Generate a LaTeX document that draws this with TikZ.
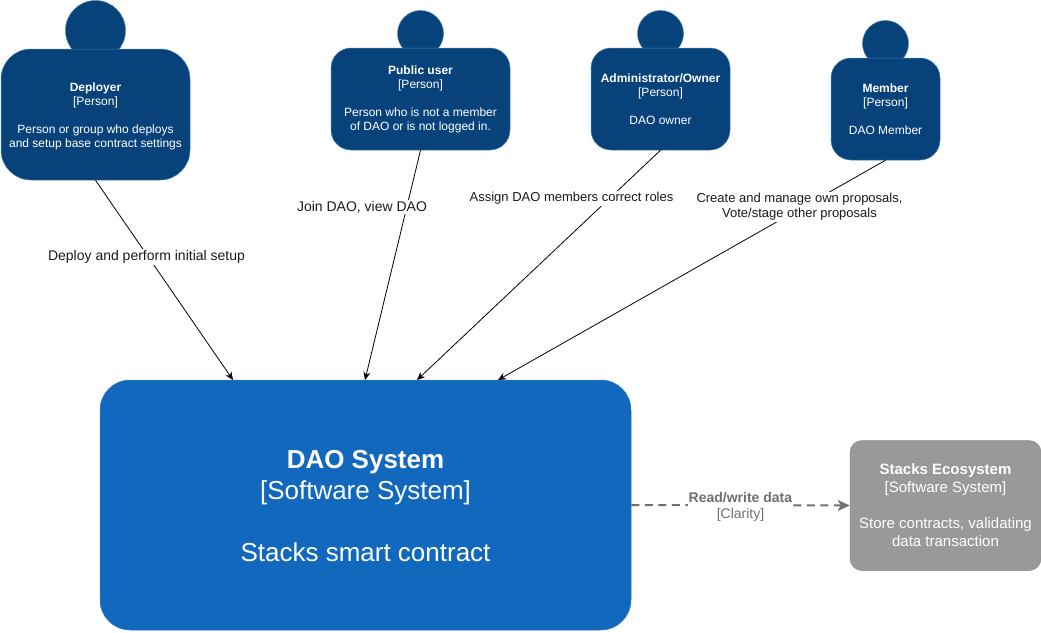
\documentclass[tikz,border=0pt]{standalone}
\usepackage{fontspec}
\setmainfont{Liberation Sans}
\usetikzlibrary{arrows.meta}
\definecolor{persfill}{HTML}{08427B}
\definecolor{persline}{HTML}{4A7FB0}
\definecolor{sysfill}{HTML}{1168BD}
\definecolor{sysline}{HTML}{3C7FC0}
\definecolor{extfill}{HTML}{999999}
\definecolor{extline}{HTML}{8A8A8A}
\definecolor{relgrey}{HTML}{707070}
\definecolor{labtext}{HTML}{1A1A1A}
\tikzset{
  personbody/.style={draw=persline,fill=persfill,text=white,line width=0.5pt,align=center,inner sep=0pt,
    font=\fontsize{12}{14}\selectfont},
  personhead/.style={circle,draw=persline,fill=persfill,line width=0.5pt,inner sep=0pt},
  sysbox/.style={draw=sysline,fill=sysfill,text=white,line width=0.5pt,align=center,inner sep=0pt,
    rounded corners=30pt,minimum width=531pt,minimum height=250pt,font=\fontsize{26}{31}\selectfont},
  extbox/.style={draw=extline,fill=extfill,text=white,line width=0.5pt,align=center,inner sep=0pt,
    rounded corners=12pt,minimum width=191pt,minimum height=130pt,font=\fontsize{15}{18}\selectfont},
  rel/.style={draw=black,line width=0.8pt,-{Stealth[length=8pt,width=7pt,inset=2.5pt]}},
  asyncrel/.style={draw=relgrey,line width=2pt,dash pattern=on 8pt off 5.5pt,-{Stealth[length=12pt,width=11pt,inset=3pt]}},
  rellabel/.style={fill=white,text=labtext,align=center,inner sep=1pt,font=\fontsize{14}{15}\selectfont},
  rellabelsmall/.style={rellabel,font=\fontsize{13}{15}\selectfont},
  asynclabel/.style={fill=white,text=relgrey,align=center,inner sep=0.5pt,font=\fontsize{14}{16}\selectfont},
}
\begin{document}
\begin{tikzpicture}[x=1pt,y=-1pt]
\useasboundingbox (0,0) rectangle (1041,632);
% persons
\node[personhead,minimum size=60pt] (h1) at (95.5,30.5) {};
\node[personbody,rounded corners=30pt,minimum width=189pt,minimum height=131pt] (p1) at (95.5,114.5)
  {\rule{0pt}{13pt}\textbf{Deployer}\\{}[Person]\\[14pt]Person or group who deploys\\and setup base contract settings};
\node[personhead,minimum size=46pt] (h2) at (420.5,33.5) {};
\node[personbody,rounded corners=20pt,minimum width=179pt,minimum height=102pt] (p2) at (420.5,99)
  {\textbf{Public user}\\{}[Person]\\[14pt]Person who is not a member\\of DAO or is not logged in.};
\node[personhead,minimum size=46pt] (h3) at (660.5,33.5) {};
\node[personbody,rounded corners=20pt,minimum width=139pt,minimum height=102pt] (p3) at (660.5,99)
  {\textbf{Administrator/Owner}\\{}[Person]\\[14pt]DAO owner};
\node[personhead,minimum size=46pt] (h4) at (885.5,43.5) {};
\node[personbody,rounded corners=20pt,minimum width=109pt,minimum height=102pt] (p4) at (885.5,109)
  {\textbf{Member}\\{}[Person]\\[14pt]DAO Member};
% systems
\node[sysbox] (dao) at (365.5,505) {\rule{0pt}{21pt}\textbf{DAO System}\\{}[Software System]\\[31pt]Stacks smart contract};
\node[extbox] (eco) at (945.5,505.5) {\textbf{Stacks Ecosystem}\\{}[Software System]\\[18pt]Store contracts, validating\\data transaction};
% arrow ends on the system's top edge
\coordinate (t1) at (233,380);
\coordinate (t2) at (365,380);
\coordinate (t3) at (417,380);
\coordinate (t4) at (498,380);
% connectors
\draw[rel] (p1.south) -- (t1);
\draw[rel] (p2.south) -- (t2);
\draw[rel] (p3.south) -- (t3);
\draw[rel] (p4.south) -- (t4);
\draw[asyncrel] (dao.east) -- (eco.west);
% labels
\node[rellabel] (l1) at (146.5,257) {Deploy and perform initial setup};
\node[rellabel] (l2) at (362,207) {Join DAO, view DAO};
\node[rellabelsmall] (l3) at (571.5,198.5) {Assign DAO members correct roles};
\node[rellabelsmall] (l4) at (799.5,207) {Create and manage own proposals,\\Vote/stage other proposals};
\node[asynclabel] (l5) at (740.5,507) {\textbf{Read/write data}\\{}[Clarity]};
\end{tikzpicture}
\end{document}
